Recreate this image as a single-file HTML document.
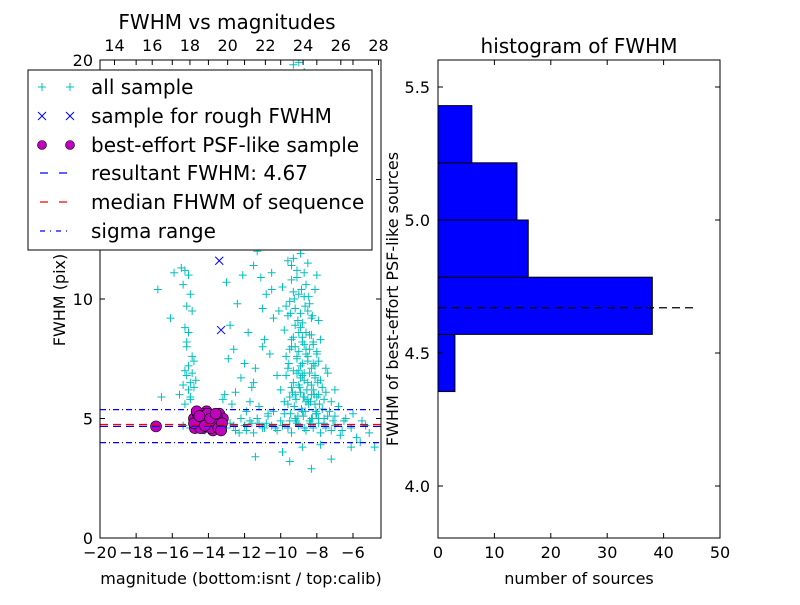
<!DOCTYPE html>
<html><head><meta charset="utf-8"><style>
body{margin:0;background:#fff}
svg text{font-family:"DejaVu Sans","Liberation Sans",sans-serif;fill:#000}
</style></head><body>
<svg id="c" width="800" height="600" viewBox="0 0 800 600" xmlns="http://www.w3.org/2000/svg">
<defs><clipPath id="lc"><rect x="100" y="60" width="281" height="478"/></clipPath></defs>
<rect width="800" height="600" fill="#fff"/>
<g id="left"></g>
<g id="right"></g>
</svg>
<script>
const allMag=[-15.3,-15.1,-15.4,-15.0,-15.2,-14.9,-15.3,-15.1,-15.5,-14.8,-15.2,-15.0,-14.9,-15.3,-15.1,-15.4,-15.0,-14.8,-15.2,-15.6,-15.1,-14.9,-15.3,-15.0,-14.7,-15.2,-16.1,-16.8,-16.6,-15.9,
-13.0,-12.5,-12.0,-11.5,-11.0,-10.5,-12.8,-12.2,-11.8,-11.2,-10.8,-10.3,-13.2,-12.6,-11.9,-11.4,-10.9,-10.4,-12.3,-11.6,-11.1,-10.6,-13.1,-12.4,-11.7,-10.2,-12.9,-11.3,-10.7,-12.1,-11.0,-10.1,-12.7,-11.5,-10.5,
-9.8,-9.5,-9.3,-9.1,-8.9,-9.4,-9.0,-8.7,-9.6,-9.2,-8.5,-8.0,
-9.9,-9.6,-9.4,-9.2,-9.0,-8.8,-8.6,-8.4,-9.5,-9.1,-8.9,-8.7,-8.3,-9.7,-9.3,-8.5,-8.1,-7.9,
-9.8,-9.5,-9.3,-9.1,-8.9,-8.7,-8.5,-8.3,-8.1,-9.6,-9.2,-9.0,-8.8,-8.6,-8.4,-8.2,-7.9,-9.4,-9.0,-8.6,-8.2,-7.8,-9.7,-8.8,-8.0,-7.5,
-10.0,-9.7,-9.5,-9.3,-9.1,-8.9,-8.7,-8.5,-8.3,-8.1,-7.9,-7.7,-9.6,-9.2,-9.0,-8.8,-8.6,-8.4,-8.2,-8.0,-7.8,-7.5,-7.2,-9.4,-8.9,-8.5,-8.1,-7.6,-7.0,-6.8,-9.8,-8.7,-8.3,-7.4,
-13.0,-12.8,-12.5,-12.2,-12.0,-11.7,-11.5,-11.2,-11.0,-10.7,-10.5,-10.2,-10.0,-9.8,-9.6,-9.4,-9.2,-9.0,-8.8,-8.6,-8.4,-8.2,-8.0,-7.8,-7.6,-7.4,-7.2,-7.0,-6.7,-6.4,-6.1,-5.8,-5.5,-5.1,-12.6,-11.9,-11.3,-10.8,-10.3,-9.9,-9.5,-9.1,-8.7,-8.3,-7.9,-7.5,-7.1,-6.6,-6.0,-5.3,-15.4,-15.0,-14.6,-14.2,-13.8,-13.4,-12.3,-11.6,-10.9,-10.4,
-11.4,-9.5,-8.3,-7.2,-6.1,-4.8,-5.6,-7.8,-8.8,-9.9,
-9.3,-9.0,-8.7,-9.4,-9.2,-8.9,-9.5,-10.2,-9.1,-8.8,-9.6,-9.0,-9.9,-8.6,
-9.45,-9.25,-9.05,-8.85,-8.65,-8.45,-8.25,-8.05,-9.35,-9.15,-8.95,-8.75,-8.55,-8.35,-8.15,-9.55,-9.3,-9.1,-8.9,-8.7,-8.5,-8.3,-8.1,-7.95,-9.4,-9.2,-9.0,-8.8,-8.6,-8.4,-8.2,-8.0,-7.7,-9.45,-9.05,-8.65,-8.25,-7.85,-9.25,-8.85,-8.45,-8.05,-7.6,-7.3,-9.15,-8.75,-8.35,-7.9,-7.0,-6.5];
const allFwhm=[11.2,11.0,10.6,10.2,9.7,9.5,8.8,8.6,11.3,7.4,6.8,6.5,6.9,7.0,6.2,6.4,5.8,6.3,8.0,6.0,7.2,7.6,5.6,5.9,6.6,8.2,9.2,10.4,5.9,11.1,
10.7,6.1,7.3,11.4,9.6,11.1,8.9,6.7,8.6,5.5,10.2,12.2,5.8,7.9,5.3,7.1,8.3,9.2,12.5,6.3,10.9,7.7,6.0,9.8,5.7,6.8,7.5,12.0,5.2,11.0,8.0,9.5,5.6,6.5,10.4,
12.8,12.3,11.7,11.2,11.9,11.4,12.5,11.1,11.6,12.9,11.5,11.0,
10.5,9.3,10.8,9.6,10.2,9.0,10.6,9.8,9.9,10.9,9.4,10.1,9.2,9.7,10.3,9.5,10.4,9.1,
8.7,7.9,8.4,7.5,8.8,8.1,7.6,8.5,7.2,7.1,8.9,7.8,7.3,8.6,7.9,8.2,7.4,8.0,7.0,7.7,7.3,8.3,7.6,8.4,7.8,7.1,
6.2,6.8,5.9,6.5,6.9,6.1,6.6,5.8,6.4,6.7,6.0,6.3,5.6,6.0,6.4,6.8,5.7,6.9,6.2,5.9,6.6,6.1,5.7,6.3,6.7,6.5,5.6,5.8,6.2,5.5,5.7,5.9,6.0,6.9,
4.6,4.8,4.5,5.0,4.7,4.9,4.4,4.8,4.6,5.1,4.7,4.5,4.9,5.2,4.6,4.4,5.0,4.7,5.3,4.5,4.9,4.6,5.2,4.4,4.8,5.1,4.5,4.7,4.3,5.0,4.6,4.2,4.9,4.4,4.7,4.5,5.0,4.8,4.6,4.7,4.9,4.8,4.6,5.0,4.8,4.6,4.9,4.5,5.2,4.7,4.7,4.6,4.8,4.5,4.9,4.7,4.4,4.8,4.6,5.3,
3.4,3.2,2.9,3.3,3.8,3.8,4.0,3.9,3.8,3.6,
19.8,19.9,19.5,17.0,15.4,16.5,14.6,18.1,14.0,13.6,15.9,17.8,16.3,14.4,
5.2,5.5,5.1,5.4,5.3,5.6,5.0,5.3,6.1,5.8,6.3,5.9,6.2,5.7,6.0,7.3,7.0,7.6,7.2,6.9,7.4,7.1,6.8,6.5,8.3,8.0,8.6,8.2,7.9,8.5,8.1,7.7,5.4,9.4,9.1,9.7,9.3,5.6,10.0,10.4,10.1,5.2,5.0,5.3,4.9,5.1,4.8,5.0,5.1,4.9];
const roughMag=[-13.4,-13.3];
const roughFwhm=[11.6,8.7];
const psfMag=[-14.8,-14.7,-14.6,-14.5,-14.4,-14.3,-14.2,-14.1,-14.0,-13.9,-13.8,-13.7,-13.6,-13.5,-13.4,-13.3,-13.2,-14.75,-14.55,-14.35,-14.15,-13.95,-13.75,-13.55,-13.35,-14.65,-14.45,-14.25,-14.05,-13.85,-13.65,-13.45,-13.25,-14.8,-14.5,-14.2,-13.9,-13.6,-13.3,-16.9];
const psfFwhm=[5.0,4.7,5.2,4.8,5.1,4.6,4.9,5.3,4.7,5.0,4.8,5.1,4.6,4.9,5.2,4.7,5.0,4.6,4.9,5.2,4.7,5.0,4.5,5.1,4.8,5.3,4.6,4.9,5.2,4.6,4.9,4.6,4.8,4.8,5.1,4.7,5.0,5.2,4.5,4.67];
const resultFwhm=4.67, medianFwhm=4.75, sigmaLo=3.99, sigmaHi=5.37;
const xTicks=[-20,-18,-16,-14,-12,-10,-8,-6];
const topTicks=[14,16,18,20,22,24,26,28];
const yTicks=[0,5,10,15,20];
const binLo=[4.355,4.57,4.785,5.0,5.215];
const binCounts=[3,38,16,14,6];
const binWidth=0.215;
const histXTicks=[0,10,20,30,40,50];
const histYTicks=[4.0,4.5,5.0,5.5];

const NS='http://www.w3.org/2000/svg';
function mk(tag,attrs,parent,txt){const e=document.createElementNS(NS,tag);for(const k in attrs)e.setAttribute(k,attrs[k]);if(txt!==undefined)e.textContent=txt;parent.appendChild(e);return e;}
const L=document.getElementById('left'),R=document.getElementById('right');
const X=v=>100+(v+20)*18.07, Y=v=>538-v*23.9, XT=v=>114.5+(v-14)*18.86;
const clipG=mk('g',{'clip-path':'url(#lc)'},L);


for(let i=0;i<allMag.length;i++){const x=X(allMag[i]),y=Y(allFwhm[i]);
 const p=mk('path',{d:`M${x-4},${y}H${x+4}M${x},${y-4}V${y+4}`,stroke:'#00bfbf','stroke-width':1},clipG);
 
 }
const hl=(v,col,dash,nm)=>{const l=mk('line',{x1:100,x2:381,y1:Y(v),y2:Y(v),stroke:col,'stroke-width':1.2,'stroke-dasharray':dash},clipG);
 
 };
hl(sigmaHi,'#0000ff','6 3 1 3','sigma-upper-line');
hl(sigmaLo,'#0000ff','6 3 1 3','sigma-lower-line');
for(let i=0;i<psfMag.length;i++){const c=mk('circle',{cx:X(psfMag[i]),cy:Y(psfFwhm[i]),r:5.5,fill:'#bf00bf',stroke:'#000','stroke-width':0.6},clipG);
 
 }
hl(resultFwhm,'#0000ff','8 5','resultant-fwhm-line');
hl(medianFwhm,'#ff0000','8 5','median-fwhm-line');
for(let i=0;i<roughMag.length;i++){const x=X(roughMag[i]),y=Y(roughFwhm[i]);
 const p=mk('path',{d:`M${x-4},${y-4}L${x+4},${y+4}M${x-4},${y+4}L${x+4},${y-4}`,stroke:'#0000ff','stroke-width':1},clipG);
 
 }
mk('rect',{x:100,y:60,width:281,height:478,fill:'none',stroke:'#000'},L);
xTicks.forEach(v=>{const x=X(v);mk('path',{d:`M${x},538v-5M${x},60v5`,stroke:'#000'},L);
 const t=mk('text',{x:x,y:558,'text-anchor':'middle','font-size':16},L,(v<0?'\u2212':'')+Math.abs(v));
 
 });
topTicks.forEach(v=>{const x=XT(v);mk('path',{d:`M${x},60v5`,stroke:'#000'},L);
 const t=mk('text',{x:x,y:51,'text-anchor':'middle','font-size':16},L,v);
 
 });
yTicks.forEach(v=>{const y=Y(v);mk('path',{d:`M100,${y}h5M381,${y}h-5`,stroke:'#000'},L);
 const t=mk('text',{x:93,y:y+6,'text-anchor':'end','font-size':16},L,v);
 
 });
const HX=v=>438+v*5.64, HY=v=>220-(v-5)*266;
binLo.forEach((b,i)=>{const r=mk('rect',{x:438,y:HY(b+binWidth),width:HX(binCounts[i])-438,height:HY(b)-HY(b+binWidth),fill:'#0000ff',stroke:'#000','stroke-width':1},R);
 
 });
const dl=mk('line',{x1:438,x2:HX(46),y1:HY(resultFwhm),y2:HY(resultFwhm),stroke:'#000','stroke-width':1.2,'stroke-dasharray':'8 5'},R);


mk('rect',{x:438,y:60,width:282,height:478,fill:'none',stroke:'#000'},R);
histXTicks.forEach(v=>{const x=HX(v);mk('path',{d:`M${x},538v-5M${x},60v5`,stroke:'#000'},R);
 const t=mk('text',{x:x,y:558,'text-anchor':'middle','font-size':16},R,v);
 
 });
histYTicks.forEach(v=>{const y=HY(v);mk('path',{d:`M438,${y}h5M720,${y}h-5`,stroke:'#000'},R);
 const t=mk('text',{x:430,y:y+6,'text-anchor':'end','font-size':16},R,v.toFixed(1));
 
 });
</script>
<svg width="800" height="600" style="position:absolute;left:0;top:0" xmlns="http://www.w3.org/2000/svg">
<text x="227" y="29" text-anchor="middle" font-size="20">FWHM vs magnitudes</text>
<text x="579" y="53" text-anchor="middle" font-size="20">histogram of FWHM</text>
<text x="241" y="584" text-anchor="middle" font-size="16">magnitude (bottom:isnt / top:calib)</text>
<text x="579" y="584" text-anchor="middle" font-size="16">number of sources</text>
<text transform="translate(65,300) rotate(-90)" text-anchor="middle" font-size="16">FWHM (pix)</text>
<text transform="translate(398,299) rotate(-90)" text-anchor="middle" font-size="16">FWHM of best-effort PSF-like sources</text>
<g font-size="20">
<rect x="28" y="70" width="344" height="180" fill="#fff" stroke="#000"/>
<path d="M38,87h8M42,83v8M66,87h8M70,83v8" stroke="#00bfbf"/>
<text x="91" y="94">all sample</text>
<path d="M38,112l8,8M38,120l8,-8M66,112l8,8M66,120l8,-8" stroke="#0000ff"/>
<text x="91" y="123">sample for rough FWHM</text>
<circle cx="42" cy="145" r="4.5" fill="#bf00bf" stroke="#000" stroke-width="0.6"/><circle cx="70" cy="145" r="4.5" fill="#bf00bf" stroke="#000" stroke-width="0.6"/>
<text x="91" y="152">best-effort PSF-like sample</text>
<path d="M40,173h8M59,173h8" stroke="#0000ff" stroke-width="1.2"/>
<text x="91" y="180">resultant FWHM: 4.67</text>
<path d="M40,202h8M59,202h8" stroke="#ff0000" stroke-width="1.2"/>
<text x="91" y="209">median FHWM of sequence</text>
<path d="M40,231h5M50,231h1M56,231h5M66,231h1" stroke="#0000ff" stroke-width="1.2"/>
<text x="91" y="238">sigma range</text>
</g>
</svg>
</body></html>
